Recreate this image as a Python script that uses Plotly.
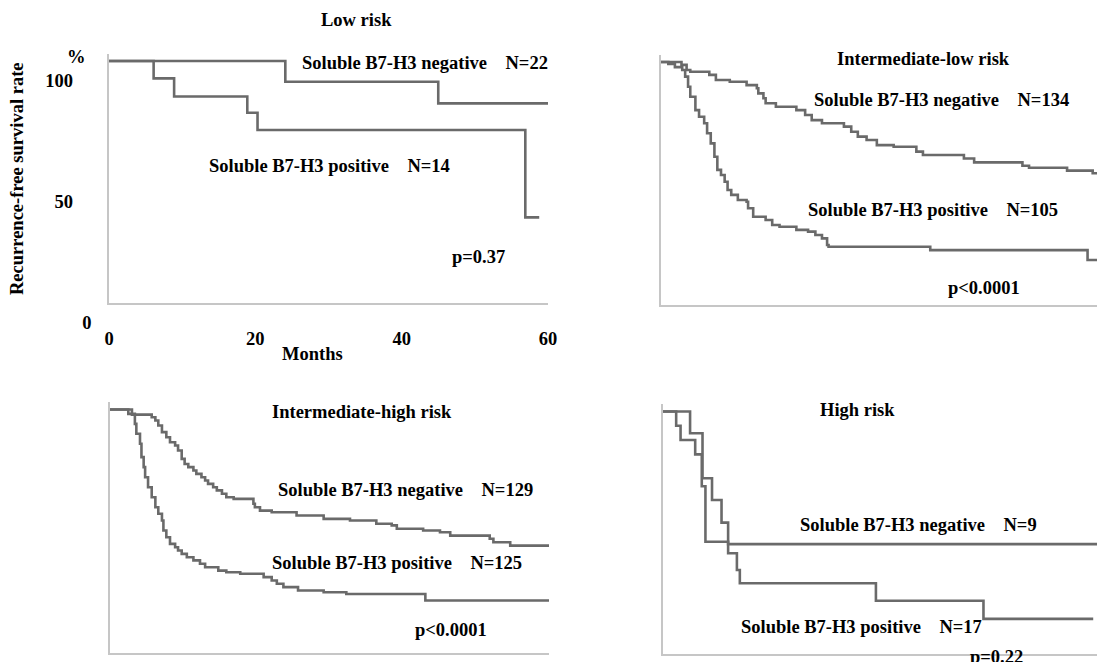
import plotly.graph_objects as go

W, H = 1097, 662

# ---------------- data (months, recurrence-free survival %) ----------------
low_neg_months = [0, 24.1, 45.0, 60]
low_neg_rate = [100, 91.4, 82.5, 82.5]
low_pos_months = [0, 6.1, 8.9, 18.9, 20.3, 56.9, 58.8]
low_pos_rate = [100, 92.8, 85.3, 78.6, 71.5, 35.4, 35.4]

il_neg_months = [0, 2.8, 3.5, 4.0, 6.6, 7.5, 9.4, 11.7, 13.1, 13.3, 14.0, 14.3, 15.7, 18.5, 19.7, 20.6,
                 22.0, 25.0, 26.0, 26.9, 28.1, 29.5, 31.8, 34.9, 35.8, 41.4, 42.8, 49.4, 50.3, 55.5, 59.0, 60]
il_neg_rate = [100, 98.8, 96.7, 96.0, 94.7, 92.6, 91.9, 90.5, 89.2, 87.1, 85.1, 83.0, 81.6, 80.2, 78.2, 76.1,
               74.8, 73.4, 71.3, 69.3, 67.9, 65.8, 65.1, 63.1, 61.7, 60.3, 58.7, 57.3, 56.5, 55.3, 54.2, 54.2]
il_pos_months = [0, 1.0, 1.9, 2.9, 3.3, 3.7, 4.0, 4.7, 5.2, 5.9, 6.3, 6.8, 7.3, 7.7, 8.2, 8.7, 9.1, 9.6,
                 10.5, 11.7, 11.9, 12.6, 14.3, 15.2, 16.2, 18.5, 20.1, 21.1, 22.0, 22.7, 22.9, 36.8, 58.3, 60]
il_pos_rate = [100, 99.2, 97.9, 96.7, 94.0, 89.8, 85.7, 80.2, 77.5, 74.8, 70.7, 66.5, 61.0, 55.6, 53.5, 50.7,
               47.3, 45.3, 43.2, 42.5, 39.8, 36.3, 35.0, 32.9, 32.2, 30.9, 30.2, 28.8, 27.4, 24.7, 24.0, 22.6,
               18.5, 18.5]

ih_neg_months = [0, 3.0, 5.7, 6.2, 6.6, 7.1, 7.7, 8.2, 8.9, 9.3, 9.8, 10.2, 10.7, 11.4, 11.8, 12.5, 13.0,
                 13.4, 14.1, 14.6, 15.3, 15.9, 16.9, 19.6, 19.8, 20.5, 22.1, 25.5, 29.2, 32.8, 36.4, 38.5,
                 39.2, 42.8, 45.1, 46.5, 51.9, 52.4, 54.7, 60]
ih_neg_rate = [100, 97.9, 96.8, 95.5, 93.4, 90.7, 88.6, 86.5, 85.2, 83.1, 79.7, 77.6, 76.3, 74.9, 73.5, 72.1,
               70.8, 69.4, 68.0, 66.7, 65.3, 63.9, 63.2, 61.2, 59.8, 58.4, 57.7, 56.4, 55.0, 54.3, 53.0, 52.3,
               50.9, 50.2, 49.5, 48.1, 46.8, 45.4, 44.0, 44.0]
ih_pos_months = [0, 2.5, 3.4, 3.6, 4.1, 4.3, 4.6, 4.8, 5.2, 5.7, 6.2, 6.6, 7.1, 7.3, 7.7, 8.2, 8.9, 9.3,
                 9.8, 10.5, 11.4, 12.3, 13.0, 14.8, 15.9, 17.8, 21.0, 22.1, 22.8, 23.7, 25.7, 29.2, 32.3,
                 43.1, 60]
ih_pos_rate = [100, 98.2, 94.1, 90.0, 85.9, 80.4, 76.3, 72.1, 68.0, 63.9, 59.8, 57.1, 54.3, 50.2, 47.4,
               44.7, 43.3, 42.0, 40.6, 39.2, 37.9, 36.5, 35.1, 33.7, 33.0, 32.4, 31.0, 29.6, 28.3, 26.9,
               25.5, 24.8, 24.1, 21.4, 21.4]

hr_neg_months = [0, 3.7, 5.4, 6.7, 8.0, 8.9, 60]
hr_neg_rate = [100, 91.0, 72.4, 63.4, 54.1, 45.2, 45.2]
hr_pos_months = [0, 1.8, 2.4, 4.4, 5.3, 5.8, 8.9, 10.1, 10.5, 29.1, 43.8, 58.8]
hr_pos_rate = [100, 94.1, 88.2, 82.3, 69.1, 46.2, 41.4, 34.5, 29.0, 21.8, 14.3, 14.3]

x_ticks = [0, 20, 40, 60]
y_ticks = [0, 50, 100]
y_ticktext = ["0", "50\u00a0\u00a0\u00a0\u00a0", "100\u00a0\u00a0\u00a0\u00a0"]

titles = ["Low risk", "Intermediate-low risk", "Intermediate-high risk", "High risk"]
neg_labels = ["N=22", "N=134", "N=129", "N=9"]
pos_labels = ["N=14", "N=105", "N=125", "N=17"]
p_values = ["p=0.37", "p&lt;0.0001", "p&lt;0.0001", "p=0.22"]

# ---------------- layout geometry (pixels) ----------------
px_per_month = 439 / 60.0
panels = [
    dict(xl=109, xr=548, ytop=61, ybot=303),
    dict(xl=661, xr=1097, ytop=62, ybot=305),
    dict(xl=110, xr=549, ytop=409.5, ybot=652.5),
    dict(xl=663, xr=1097, ytop=411.5, ybot=653.5),
]
series = [
    (low_neg_months, low_neg_rate, low_pos_months, low_pos_rate),
    (il_neg_months, il_neg_rate, il_pos_months, il_pos_rate),
    (ih_neg_months, ih_neg_rate, ih_pos_months, ih_pos_rate),
    (hr_neg_months, hr_neg_rate, hr_pos_months, hr_pos_rate),
]

LINE = "#6a6a6a"
AXIS = "#c6c6c6"
FAM = "Liberation Serif, 'Times New Roman', Times, serif"
FS = 18.5


def fx(x):
    return x / W


def fy(y):
    return 1 - y / H


fig = go.Figure()
YMAX = 103
layout_axes = {}
for i, (p, s) in enumerate(zip(panels, series)):
    n = "" if i == 0 else str(i + 1)
    xmax = (p["xr"] - p["xl"]) / px_per_month
    ppp = (p["ybot"] - p["ytop"]) / 100.0
    top_px = p["ybot"] - YMAX * ppp
    first = i == 0
    layout_axes["xaxis" + n] = dict(
        domain=[fx(p["xl"]), min(1.0, fx(p["xr"]))], range=[0, xmax], anchor="y" + n,
        showline=True, linecolor=AXIS, linewidth=1.5, showgrid=False, zeroline=False, automargin=False,
        ticks="", showticklabels=first, tickvals=x_ticks, ticktext=[str(v) for v in x_ticks],
        tickfont=dict(family=FAM, size=FS, color="black", weight="bold"),
        ticklabelstandoff=18 if first else 0,
    )
    layout_axes["yaxis" + n] = dict(
        domain=[fy(p["ybot"]), fy(top_px)], range=[0, YMAX], anchor="x" + n,
        showline=True, linecolor=AXIS, linewidth=1.5, showgrid=False, zeroline=False, automargin=False,
        ticks="", showticklabels=first, tickvals=y_ticks, ticktext=y_ticktext,
        tickfont=dict(family=FAM, size=FS, color="black", weight="bold"),
        ticklabelstandoff=12 if first else 0, ticklabelshift=20 if first else 0,
    )
    nm, nr, pm, pr = s
    for mx, rt in ((nm, nr), (pm, pr)):
        fig.add_trace(go.Scatter(x=mx, y=rt, mode="lines", line=dict(color=LINE, width=2.6, shape="hv"),
                                 xaxis="x" + n, yaxis="y" + n, hoverinfo="skip"))

GAP = "\u00a0" * 4
ann_specs = [
    (titles[0], 356, 20), ("Soluble B7-H3 negative" + GAP + neg_labels[0], 425, 63),
    ("Soluble B7-H3 positive" + GAP + pos_labels[0], 329, 166), (p_values[0], 478, 257),
    ("%", 76, 57), ("Months", 312, 354),
    (titles[1], 923, 59), ("Soluble B7-H3 negative" + GAP + neg_labels[1], 941, 100),
    ("Soluble B7-H3 positive" + GAP + pos_labels[1], 933, 210), (p_values[1], 984, 288),
    (titles[2], 362, 412), ("Soluble B7-H3 negative" + GAP + neg_labels[2], 405, 490),
    ("Soluble B7-H3 positive" + GAP + pos_labels[2], 397, 563), (p_values[2], 451, 630),
    (titles[3], 857, 410), ("Soluble B7-H3 negative" + GAP + neg_labels[3], 918, 525),
    ("Soluble B7-H3 positive" + GAP + pos_labels[3], 861, 627), (p_values[3], 996, 657),
]
annotations = [
    dict(text=t, x=fx(x), y=fy(y), xref="paper", yref="paper", xanchor="center", yanchor="middle",
         showarrow=False, font=dict(family=FAM, size=FS, color="black", weight="bold"))
    for t, x, y in ann_specs
]
annotations.append(dict(text="Recurrence-free survival rate", x=fx(17), y=fy(179), xref="paper", yref="paper",
                        xanchor="center", yanchor="middle", textangle=-90, showarrow=False,
                        font=dict(family=FAM, size=FS, color="black", weight="bold")))

fig.update_layout(
    width=W, height=H, margin=dict(l=0, r=0, t=0, b=0, autoexpand=False), autosize=False,
    paper_bgcolor="white", plot_bgcolor="white", showlegend=False,
    font=dict(family=FAM, size=FS, color="black", weight="bold"),
    annotations=annotations, **layout_axes,
)

fig.write_html("out.html", config={"displayModeBar": False})
